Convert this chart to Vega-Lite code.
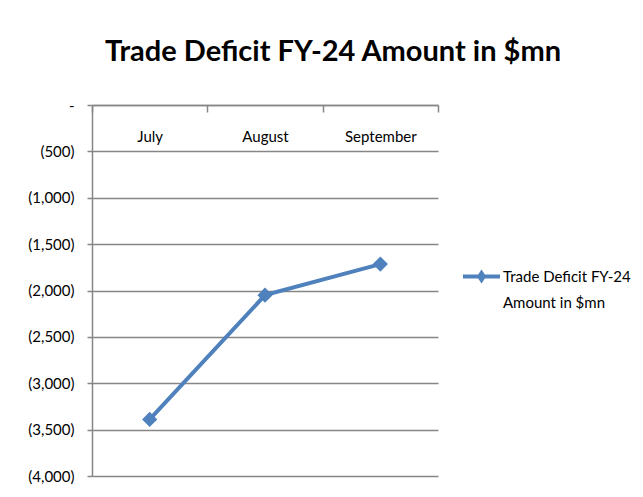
{
  "$schema": "https://vega.github.io/schema/vega-lite/v6.json",
  "width": 346,
  "height": 371,
  "autosize": "none",
  "padding": {"left": 92, "top": 105, "right": 205, "bottom": 21},
  "background": "white",
  "title": {
    "text": "Trade Deficit FY-24  Amount in $mn",
    "font": "Lato",
    "fontWeight": "bold",
    "fontSize": 29,
    "color": "black",
    "anchor": "middle",
    "frame": "group",
    "dx": 68,
    "offset": 31
  },
  "data": {
    "values": [
      {"month": "July", "value": -3390},
      {"month": "August", "value": -2050},
      {"month": "September", "value": -1715}
    ]
  },
  "mark": {
    "type": "line",
    "color": "#4F81BD",
    "strokeWidth": 4,
    "point": {"shape": "diamond", "size": 230, "filled": true, "color": "#4F81BD"}
  },
  "encoding": {
    "x": {
      "field": "month",
      "type": "nominal",
      "sort": ["July", "August", "September"],
      "scale": {"paddingInner": 0, "paddingOuter": 0},
      "axis": {
        "title": null,
        "orient": "bottom",
        "offset": -371,
        "labelAngle": 0,
        "tickBand": "extent",
        "tickSize": 7,
        "labelPadding": 17,
        "grid": false
      }
    },
    "y": {
      "field": "value",
      "type": "quantitative",
      "scale": {"domain": [-4000, 0], "nice": false},
      "axis": {
        "title": null,
        "values": [-4000, -3500, -3000, -2500, -2000, -1500, -1000, -500, 0],
        "labelExpr": "datum.value == 0 ? '-\u3000' : '(' + format(-datum.value, ',') + ')'",
        "tickSize": 5,
        "labelPadding": 13,
        "grid": true
      }
    },
    "color": {
      "datum": "Trade Deficit FY-24 Amount in $mn",
      "scale": {"range": ["#4F81BD"]},
      "legend": {
        "title": null,
        "orient": "none",
        "legendX": 371,
        "legendY": 153,
        "symbolType": "M-1,-0.11H1V0.11H-1Z M0,-0.38L0.25,0L0,0.38L-0.25,0Z",
        "symbolSize": 1369,
        "symbolStrokeWidth": 0,
        "labelFont": "Lato",
        "labelFontSize": 15,
        "labelColor": "black",
        "labelExpr": "['Trade Deficit FY-24', 'Amount in $mn']",
        "labelOffset": 3,
        "labelLimit": 0,
        "encode": {
          "symbols": {"update": {"fill": {"value": "#4F81BD"}, "stroke": {"value": "#4F81BD"}, "opacity": {"value": 1}}},
          "labels": {"update": {"lineHeight": {"value": 26}}}
        }
      }
    }
  },
  "config": {
    "view": {"stroke": null},
    "axis": {
      "labelFont": "Lato",
      "labelFontSize": 15,
      "labelColor": "black",
      "domainColor": "#868686",
      "tickColor": "#868686",
      "gridColor": "#868686",
      "gridOpacity": 1,
      "domainWidth": 1.5,
      "gridWidth": 1.5,
      "tickWidth": 1.5
    }
  }
}
